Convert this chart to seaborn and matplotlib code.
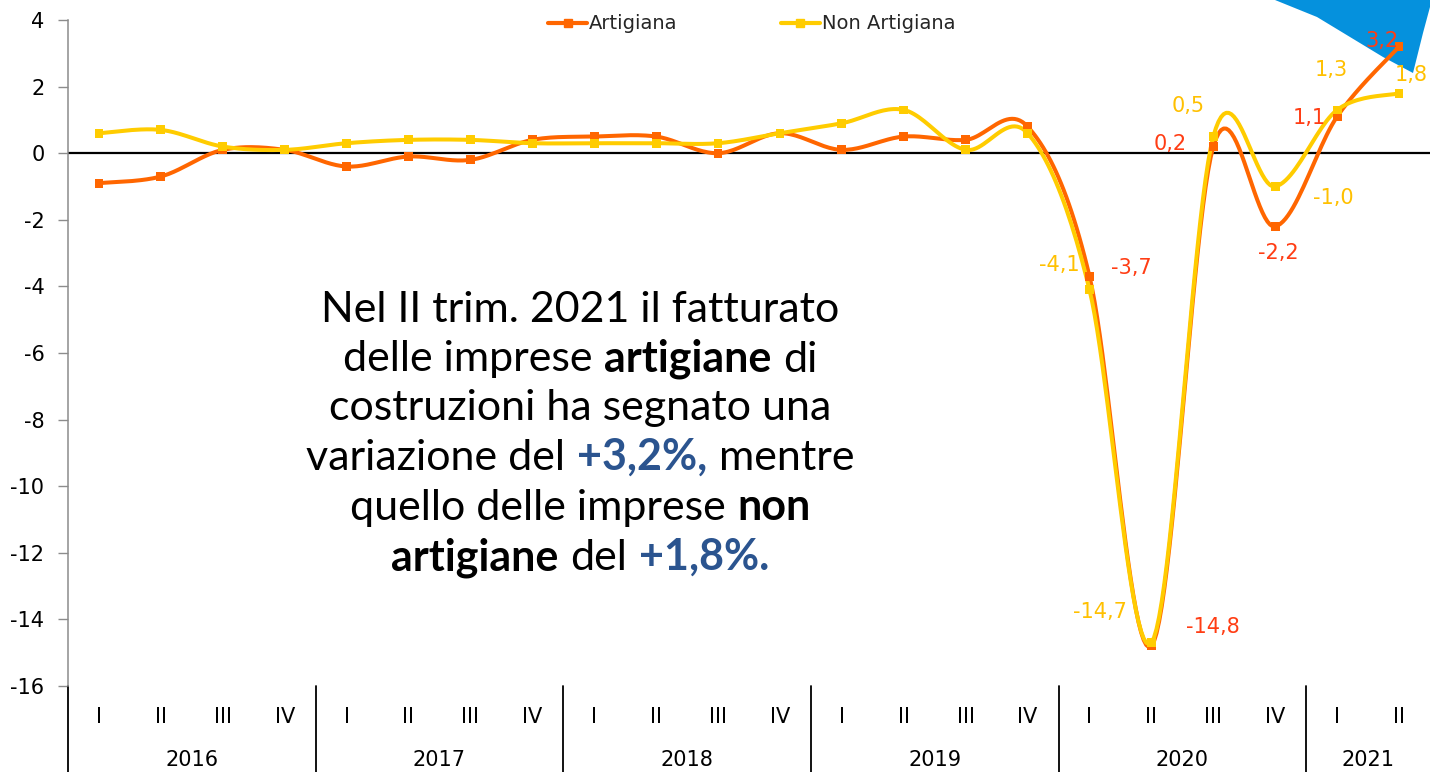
import numpy as np
import pandas as pd
import matplotlib
matplotlib.use("Agg")
import matplotlib.pyplot as plt
import seaborn as sns
from matplotlib.lines import Line2D
from matplotlib.patches import Polygon
from matplotlib.offsetbox import TextArea, HPacker, VPacker, AnnotationBbox

# ---- data ----
years = ['2016', '2017', '2018', '2019', '2020', '2021']
quarters_per_year = [4, 4, 4, 4, 4, 2]
quarter_labels = ['I', 'II', 'III', 'IV'] * 5 + ['I', 'II']

artigiana = [-0.9, -0.7, 0.1, 0.1, -0.4, -0.1, -0.2, 0.4,
             0.5, 0.5, 0.0, 0.6, 0.1, 0.5, 0.4, 0.8,
             -3.7, -14.8, 0.2, -2.2, 1.1, 3.2]
non_artigiana = [0.6, 0.7, 0.2, 0.1, 0.3, 0.4, 0.4, 0.3,
                 0.3, 0.3, 0.3, 0.6, 0.9, 1.3, 0.1, 0.6,
                 -4.1, -14.7, 0.5, -1.0, 1.3, 1.8]
series_names = ['Artigiana', 'Non Artigiana']

# data labels only on the last six quarters
label_from = 16
art_offsets = [(30, 6), (44, 14), (-31, 2), (2, -19), (-20, -1), (-12, 4)]
non_offsets = [(-22, 18), (-37, 22), (-18, 22), (42, -8), (-4, 29), (9, 13)]

orange = '#FF6600'
yellow = '#FFCC00'
orange_lbl = '#FF3D14'
yellow_lbl = '#FFC000'
blue_txt = '#2B548F'


def smooth(xs, ys, n=24):
    # excel-like smoothed line (catmull-rom bezier)
    xs = np.asarray(xs, float)
    ys = np.asarray(ys, float)
    px, py = [], []
    m = len(xs)
    for i in range(m - 1):
        i0, i3 = max(i - 1, 0), min(i + 2, m - 1)
        p0 = np.array([xs[i0], ys[i0]])
        p1 = np.array([xs[i], ys[i]])
        p2 = np.array([xs[i + 1], ys[i + 1]])
        p3 = np.array([xs[i3], ys[i3]])
        c1 = p1 + (p2 - p0) / 6
        c2 = p2 - (p3 - p1) / 6
        t = np.linspace(0, 1, n, endpoint=(i == m - 2))[:, None]
        pts = (1 - t) ** 3 * p1 + 3 * (1 - t) ** 2 * t * c1 + 3 * (1 - t) * t ** 2 * c2 + t ** 3 * p2
        px.extend(pts[:, 0])
        py.extend(pts[:, 1])
    return px, py


x = np.arange(len(artigiana))

curves = []
points = []
for name, vals in zip(series_names, [artigiana, non_artigiana]):
    sx, sy = smooth(x, vals)
    curves.append(pd.DataFrame({'x': sx, 'y': sy, 'serie': name}))
    points.append(pd.DataFrame({'x': x, 'y': vals, 'serie': name}))
curve_df = pd.concat(curves, ignore_index=True)
point_df = pd.concat(points, ignore_index=True)

sns.set_theme(style='white')
plt.rcParams['font.family'] = ['DejaVu Sans']
plt.rcParams['axes.unicode_minus'] = False

fig = plt.figure(figsize=(14.3, 7.72), dpi=100)
ax = fig.add_axes([68 / 1430, 1 - 686 / 772, 1362 / 1430, 666 / 772])
ax.patch.set_visible(False)

palette = {'Artigiana': orange, 'Non Artigiana': yellow}
sns.lineplot(data=curve_df, x='x', y='y', hue='serie', palette=palette, sort=False,
             estimator=None, linewidth=2.9, legend=False, ax=ax, zorder=3)
sns.scatterplot(data=point_df, x='x', y='y', hue='serie', palette=palette, marker='s',
                s=40, linewidth=0, legend=False, ax=ax, zorder=4)

ax.axhline(0, color='black', lw=1.6, zorder=2)

ax.set_xlim(-0.5, len(x) - 0.5)
ax.set_ylim(-16, 4)
ax.set_yticks(range(-16, 5, 2))
ax.set_xlabel('')
ax.set_ylabel('')
for s in ['top', 'right', 'bottom']:
    ax.spines[s].set_visible(False)
ax.spines['left'].set_color('#8c8c8c')
ax.spines['left'].set_linewidth(1.1)
ax.tick_params(axis='y', left=True, length=7, width=1, color='#8c8c8c', pad=10,
               labelsize=15, labelcolor='black')
ax.set_xticks(x, quarter_labels)
ax.tick_params(axis='x', length=0, pad=15, labelsize=15, labelcolor='black')

# year labels and dividers
tr = ax.get_xaxis_transform()
start = 0
for yr, nq in zip(years, quarters_per_year):
    ax.plot([start - 0.5, start - 0.5], [0, -0.13], transform=tr, clip_on=False,
            color='black', lw=1.3)
    ax.text(start + (nq - 1) / 2, -0.111, yr, transform=tr, ha='center', va='center',
            fontsize=15, color='black')
    start += nq

# data labels
for i, (dx, dy) in enumerate(art_offsets):
    k = label_from + i
    ax.annotate(f'{artigiana[k]:.1f}'.replace('.', ','), (k, artigiana[k]),
                xytext=(dx, dy), textcoords='offset points', ha='center', va='center',
                fontsize=15, color=orange_lbl, zorder=5, annotation_clip=False)
for i, (dx, dy) in enumerate(non_offsets):
    k = label_from + i
    ax.annotate(f'{non_artigiana[k]:.1f}'.replace('.', ','), (k, non_artigiana[k]),
                xytext=(dx, dy), textcoords='offset points', ha='center', va='center',
                fontsize=15, color=yellow_lbl, zorder=5, annotation_clip=False)

# legend
handles = [Line2D([], [], color=c, lw=3, marker='s', ms=6) for c in [orange, yellow]]
ax.legend(handles, series_names, loc='center', bbox_to_anchor=(0.502, 0.994), ncol=2,
          frameon=False, fontsize=14, handlelength=2.0, handletextpad=0.1,
          columnspacing=5.3)

# decorative blue shape top right
shape = [(1275, 0), (1317, 17), (1350, 37), (1383, 57), (1413, 73),
         (1423, 33), (1430, 7), (1430, 0)]
ax.add_patch(Polygon([(px_ / 1430, 1 - py_ / 772) for px_, py_ in shape], closed=True,
                     transform=fig.transFigure, facecolor='#0591DD', edgecolor='none',
                     clip_on=False, zorder=0.5))

# commentary text
txt_font = 'Lato'
fs = 31
text_lines = [
    [('Nel II trim. 2021 il fatturato', 'normal', 'black')],
    [('delle imprese', 'normal', 'black'), ('artigiane', 'bold', 'black'), ('di', 'normal', 'black')],
    [('costruzioni ha segnato una', 'normal', 'black')],
    [('variazione del', 'normal', 'black'), ('+3,2%,', 'bold', blue_txt), ('mentre', 'normal', 'black')],
    [('quello delle imprese', 'normal', 'black'), ('non', 'bold', 'black')],
    [('artigiane', 'bold', 'black'), ('del', 'normal', 'black'), ('+1,8%.', 'bold', blue_txt)],
]
rows = []
for line in text_lines:
    parts = [TextArea(t, textprops=dict(fontsize=fs, fontweight=w, color=c, family=txt_font))
             for t, w, c in line]
    rows.append(HPacker(children=parts, align='baseline', pad=0, sep=fs * 0.27))
block = VPacker(children=rows, align='center', pad=0, sep=7.2)
ax.add_artist(AnnotationBbox(block, (580 / 1430, 1 - 434 / 772), xycoords=fig.transFigure,
                             frameon=False, box_alignment=(0.5, 0.5), zorder=6))

fig.savefig('out.png', dpi=100)
